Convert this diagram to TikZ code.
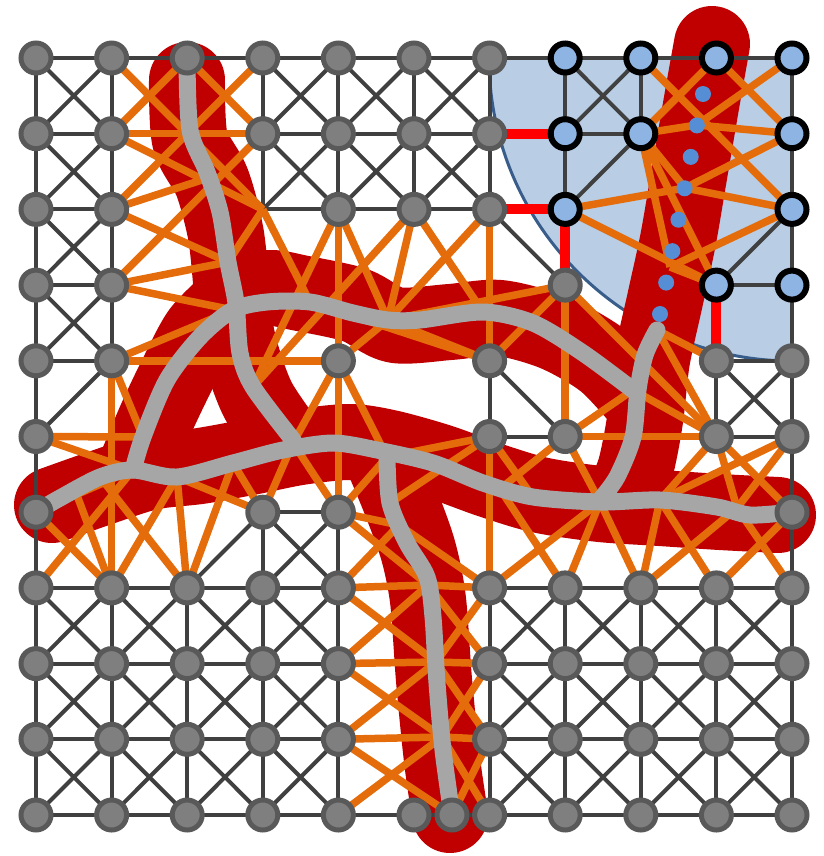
\documentclass[tikz,border=0pt]{standalone}
\usetikzlibrary{calc}
\definecolor{gridgray}{RGB}{64,64,64}
\definecolor{linkorange}{RGB}{228,108,10}
\definecolor{roadred}{RGB}{192,0,0}
\definecolor{pathgray}{RGB}{166,166,166}
\definecolor{nodegray}{RGB}{127,127,127}
\definecolor{rimgray}{RGB}{89,89,89}
\definecolor{zoneblue}{RGB}{185,205,229}
\definecolor{zoneedge}{RGB}{56,93,138}
\definecolor{nodeblue}{RGB}{142,180,227}
\definecolor{dotblue}{RGB}{85,142,213}
\definecolor{cutred}{RGB}{255,0,0}
\begin{document}
\begin{tikzpicture}[x=0.02cm, y=-0.02cm,
  meshline/.style={gridgray, line width=0.08cm},
  link/.style={linkorange, line width=0.15cm},
  road/.style={roadred, line width=1.52cm, line cap=round, line join=round},
  route/.style={pathgray, line width=0.34cm, line cap=round, line join=round},
  cutedge/.style={cutred, line width=0.2cm},
  gnode/.style={circle, fill=nodegray, draw=rimgray, line width=0.1cm, minimum size=0.6cm, inner sep=0pt},
  bnode/.style={circle, fill=nodeblue, draw=black, line width=0.12cm, minimum size=0.58cm, inner sep=0pt},
  stopdot/.style={circle, fill=dotblue, minimum size=0.32cm, inner sep=0pt}]

\useasboundingbox (0,0) rectangle (823,856);

% grid positions
\foreach \i in {0,...,10}
  \foreach \j in {0,...,10}
    \coordinate (c-\i-\j) at ({36+75.6*\i},{58+75.7*\j});
\coordinate (c-x) at (452,815);

% points on the road
\coordinate (s-a) at (208,178);
\coordinate (s-b) at (228,262);
\coordinate (s-c) at (233,310);
\coordinate (s-d) at (253,387);
\coordinate (s-e) at (293,443);
\coordinate (s-f) at (143,437);
\coordinate (s-g) at (310,302);
\coordinate (s-h) at (388,320);
\coordinate (s-i) at (483,312);
\coordinate (s-j) at (633,390);
\coordinate (s-k) at (657,330);
\coordinate (s-l) at (133,470);
\coordinate (s-m) at (75,490);
\coordinate (s-n) at (100,477);
\coordinate (s-o) at (177,477);
\coordinate (s-p) at (233,463);
\coordinate (s-q) at (387,457);
\coordinate (s-r) at (500,489);
\coordinate (s-s) at (533,497);
\coordinate (s-t) at (600,502);
\coordinate (s-u) at (660,500);
\coordinate (s-v) at (737,508);
\coordinate (s-w) at (390,503);
\coordinate (l-1) at (399,525);
\coordinate (l-2) at (428,585);
\coordinate (l-3) at (436,662);
\coordinate (l-4) at (442,737);
\coordinate (k-1) at (697,125);
\coordinate (k-2) at (685,188);
\coordinate (k-3) at (670,267);

% blue zone
\filldraw[fill=zoneblue, draw=zoneedge, line width=0.06cm]
  (792,58) -- (489,58) .. controls (489,225) and (625,361) .. (792,361) -- cycle;

% red road
\draw[road] plot[smooth] coordinates {(187,80) (190,140) (212,182) (226,235) (232,295)};
\draw[road] plot[smooth] coordinates {(232,295) (270,288) (300,293) (355,305) (395,325) (450,322) (500,318) (555,333) (605,362) (645,405)};
\draw[road] plot[smooth] coordinates {(232,300) (200,332) (176,377) (156,419) (138,462)};
\draw[road] plot[smooth] coordinates {(230,300) (240,350) (258,400) (290,447)};
\draw[road] plot[smooth] coordinates {(52,505) (100,488) (150,472) (200,466) (250,457) (300,447) (350,442) (390,448) (440,462) (490,480) (540,495) (600,504) (660,508) (720,512) (778,515)};
\draw[road] plot[smooth] coordinates {(712,44) (702,100) (690,170) (678,240) (665,300) (652,360) (645,420) (635,470) (620,505)};
\draw[road] plot[smooth] coordinates {(380,452) (400,500) (418,550) (428,600) (434,680) (442,760) (450,815)};

% mesh
\draw[meshline] (c-0-0) -- (c-10-0);
\draw[meshline] (c-0-0) -- (c-0-10);
\draw[meshline] (c-1-0) -- (c-1-4);
\draw[meshline] (c-10-0) -- (c-10-10);
\foreach \j in {1,...,4}
  \draw[meshline] (c-0-\j) -- (c-1-\j);
\draw[meshline] (c-3-1) -- (c-6-1);
\draw[meshline] (c-3-2) -- (c-6-2);
\foreach \i in {3,...,6}
  \draw[meshline] (c-\i-0) -- (c-\i-2);
\foreach \j in {7,...,10} {
  \draw[meshline] (c-0-\j) -- (c-4-\j);
  \draw[meshline] (c-6-\j) -- (c-10-\j);
}
\foreach \i in {0,...,4,6,7,8,9}
  \draw[meshline] (c-\i-7) -- (c-\i-10);
\draw[meshline] (c-4-10) -- (c-6-10);
\foreach \i/\j in {0/0,0/1,0/2,0/3,3/0,4/0,5/0,3/1,4/1,5/1,7/0,9/4,3/6,
  0/7,1/7,2/7,3/7,0/8,1/8,2/8,3/8,0/9,1/9,2/9,3/9,
  6/7,7/7,8/7,9/7,6/8,7/8,8/8,9/8,6/9,7/9,8/9,9/9} {
  \pgfmathtruncatemacro\ii{\i+1}
  \pgfmathtruncatemacro\jj{\j+1}
  \draw[meshline] (c-\i-\j) -- (c-\ii-\jj) (c-\ii-\j) -- (c-\i-\jj);
}
\foreach \a/\b in {c-7-0/c-7-2, c-8-0/c-8-1, c-7-1/c-8-1, c-8-1/c-7-2, c-6-2/c-7-3,
  c-10-2/c-9-3, c-9-3/c-10-3, c-9-4/c-10-4, c-9-4/c-9-5, c-9-5/c-10-5,
  c-6-4/c-6-5, c-6-4/c-7-5, c-6-5/c-7-5, c-1-4/c-0-5,
  c-3-6/c-4-6, c-3-6/c-3-7, c-4-6/c-4-7, c-2-7/c-3-6}
  \draw[meshline] (\a) -- (\b);

% cut edges
\foreach \a/\b in {c-6-1/c-7-1, c-6-2/c-7-2, c-7-2/c-7-3, c-9-3/c-9-4}
  \draw[cutedge] (\a) -- (\b);

% links across the road
\foreach \a/\b in {c-1-0/c-3-2, c-2-0/c-1-1, c-2-0/c-3-1, c-3-0/c-1-2, c-1-1/c-3-1,
  c-1-1/c-3-2, c-3-1/c-1-3, c-1-2/s-a, c-1-2/s-b, c-1-3/s-b, c-1-3/s-c, c-3-2/s-b,
  c-3-2/s-g, c-4-2/s-d, c-4-2/s-h, c-4-2/c-4-4, c-5-2/s-h, c-5-2/s-i, c-5-2/s-d,
  c-6-2/s-h, c-6-2/c-6-4,
  c-7-3/s-h, c-7-3/c-6-4, c-7-3/c-7-5, c-7-3/c-9-5, c-6-4/s-h, c-6-4/s-g,
  c-4-4/s-h, c-4-4/c-1-4, c-4-4/s-e, c-4-4/c-4-6, c-4-4/s-q,
  c-1-4/s-c, c-1-4/s-f, c-1-4/c-1-7, c-0-5/s-f, c-0-5/s-l, c-0-6/s-l, c-0-6/c-1-7,
  c-0-7/s-l, c-1-7/s-m, c-1-7/s-o, c-2-7/s-n, c-2-7/s-o, c-2-7/s-p, c-3-6/s-p,
  c-3-6/s-e, c-3-6/s-o, c-4-6/s-e, c-4-6/s-q, c-4-6/l-1, c-4-6/l-2,
  c-4-7/l-1, c-4-7/l-2, c-4-7/l-3, c-4-8/l-2, c-4-8/l-3, c-4-8/l-4, c-4-9/l-3,
  c-4-9/l-4, c-4-9/c-x, c-4-10/l-4, c-6-7/l-1, c-6-7/l-2, c-6-7/l-3, c-6-8/l-2,
  c-6-8/l-3, c-6-8/l-4, c-6-9/l-3, c-6-9/l-4, c-6-9/c-x, c-6-10/l-4,
  c-6-5/s-q, c-6-5/s-w, c-6-5/s-s, c-6-5/c-6-7, c-7-5/s-r, c-7-5/s-t, c-7-5/s-j,
  c-7-5/c-9-5, c-9-5/s-j, c-9-5/s-k, c-9-5/s-u, c-9-5/s-v, c-9-5/c-10-6,
  c-10-5/s-u, c-10-5/s-v, c-9-4/s-k, c-6-7/s-t, c-7-7/s-r, c-7-7/s-t, c-8-7/s-t,
  c-8-7/s-u, c-8-7/s-v, c-9-7/s-u, c-9-7/c-10-6, c-10-7/s-v,
  c-8-0/c-10-2, c-9-0/c-8-1, c-9-0/c-10-1, c-10-0/k-1, c-8-1/k-1, c-10-1/k-1,
  c-8-1/k-2, c-10-1/k-2, c-7-2/k-2, c-10-2/k-2, c-8-1/c-9-3, c-8-1/k-3,
  c-7-2/c-9-3, c-10-2/k-3, c-9-3/k-3}
  \draw[link] (\a) -- (\b);

% route
\draw[route] plot[smooth] coordinates {(187,58) (190,130) (207,172) (220,212) (228,262) (236,303) (240,353) (253,387) (293,440)};
\draw[route] plot[smooth] coordinates {(133,470) (143,437) (167,380) (200,337) (233,310) (267,302) (310,302) (353,313) (388,320) (420,320) (483,312) (533,323) (583,353) (633,390)};
\draw[route] plot[smooth] coordinates {(36,512) (60,498) (100,477) (133,470) (177,477) (233,463) (283,450) (333,443) (377,450) (433,463) (483,483) (533,497) (600,502) (660,500) (717,507) (750,515) (792,512)};
\draw[route] plot[smooth] coordinates {(657,330) (645,355) (638,390) (633,437) (617,477) (600,500)};
\draw[route] plot[smooth] coordinates {(387,455) (390,503) (407,543) (427,577) (433,617) (437,683) (443,750) (452,815)};

% stops
\foreach \k in {0,...,7}
  \node[stopdot] (d-\k) at ({703-6.14*\k},{94+31.43*\k}) {};

% nodes
\foreach \i/\j in {0/0,1/0,2/0,3/0,4/0,5/0,6/0, 0/1,1/1,3/1,4/1,5/1,6/1,
  0/2,1/2,4/2,5/2,6/2, 0/3,1/3,7/3, 0/4,1/4,4/4,6/4,9/4,10/4,
  0/5,6/5,7/5,9/5,10/5, 0/6,3/6,4/6,10/6, 5/10}
  \node[gnode] (n-\i-\j) at (c-\i-\j) {};
\foreach \i in {0,...,4,6,7,8,9,10}
  \foreach \j in {7,...,10}
    \node[gnode] (n-\i-\j) at (c-\i-\j) {};
\node[gnode] (n-x) at (c-x) {};
\foreach \i/\j in {7/0,8/0,9/0,10/0,7/1,8/1,10/1,7/2,10/2,9/3,10/3}
  \node[bnode] (n-\i-\j) at (c-\i-\j) {};

\end{tikzpicture}
\end{document}
